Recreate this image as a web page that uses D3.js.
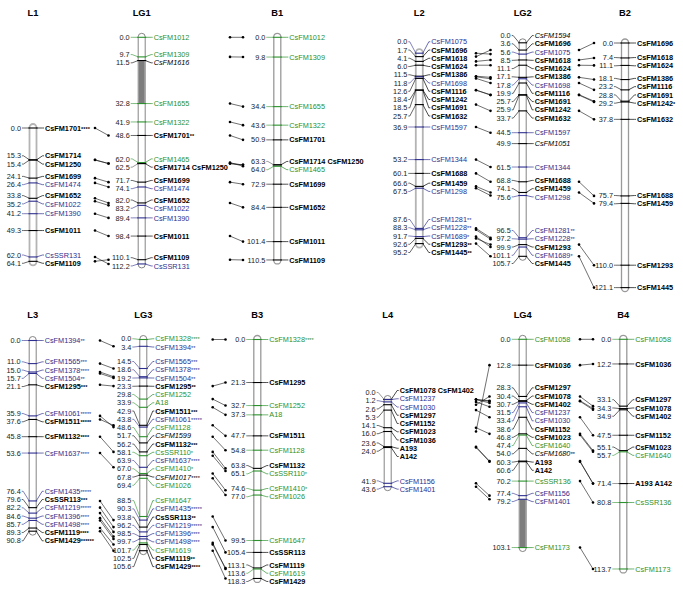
<!DOCTYPE html>
<html><head><meta charset="utf-8">
<script src="https://cdn.jsdelivr.net/npm/d3@7"></script>
<style>
body{margin:0;background:#fff}
svg{display:block}
text{font-family:"Liberation Sans",Arial,Helvetica,sans-serif}
</style>
</head><body>
<svg id="chart" width="683" height="592"></svg>
<script>
// ---------------- DATA ----------------
// colour/style codes: k = black bold, i = black italic, g = green, b = blue
const L1_pos = [0.0,15.3,15.4,24.1,26.4,33.8,35.2,41.2,49.3,62.0,64.1];
const L1_mk  = ["CsFM1701****","CsFM1714","CsFM1250","CsFM1699","CsFM1474","CsFM1652","CsFM1022","CsFM1390","CsFM1011","CsSSR131","CsFM1109"];
const L1_col = ["k","k","k","k","b","k","b","b","k","b","k"];

const LG1_pos = [0.0,9.7,11.5,32.8,41.9,48.6,62.0,62.5,62.5,71.7,74.1,82.0,83.2,89.4,98.4,110.1,112.2];
const LG1_mk  = ["CsFM1012","CsFM1309","CsFM1616","CsFM1655","CsFM1322","CsFM1701**","CsFM1465","CsFM1714","CsFM1250","CsFM1699","CsFM1474","CsFM1652","CsFM1022","CsFM1390","CsFM1011","CsFM1109","CsSSR131"];
const LG1_col = ["g","g","i","g","g","k","g","k","k","k","b","k","b","b","k","k","b"];
const LG1_gap = [11.5,32.8];

const B1_pos = [0.0,9.8,34.4,43.6,50.9,63.3,63.3,64.0,72.9,84.4,101.4,110.5];
const B1_mk  = ["CsFM1012","CsFM1309","CsFM1655","CsFM1322","CsFM1701","CsFM1714","CsFM1250","CsFM1465","CsFM1699","CsFM1652","CsFM1011","CsFM1109"];
const B1_col = ["g","g","g","g","k","k","k","g","k","k","k","k"];

const L2_pos = [0.0,1.7,4.1,6.0,11.5,11.8,12.6,18.4,18.5,25.7,36.9,53.2,60.1,66.6,67.5,87.6,88.3,91.7,92.6,95.2];
const L2_mk  = ["CsFM1075","CsFM1696","CsFM1618","CsFM1624","CsFM1386","CsFM1698","CsFM1116","CsFM1242","CsFM1691","CsFM1632","CsFM1597","CsFM1344","CsFM1688","CsFM1459","CsFM1298","CsFM1281**","CsFM1228**","CsFM1689*","CsFM1293**","CsFM1445**"];
const L2_col = ["b","k","k","k","k","b","k","k","k","k","b","b","k","k","b","b","b","b","k","k"];

const LG2_pos = [0.0,3.6,5.6,8.5,11.1,17.1,17.8,19.9,25.7,25.9,33.7,44.5,49.9,61.5,68.8,74.1,75.6,96.5,97.2,99.9,101.1,105.7];
const LG2_mk  = ["CsFM1594","CsFM1696","CsFM1075","CsFM1618","CsFM1624","CsFM1386","CsFM1698","CsFM1116","CsFM1691","CsFM1242","CsFM1632","CsFM1597","CsFM1051","CsFM1344","CsFM1688","CsFM1459","CsFM1298","CsFM1281**","CsFM1228**","CsFM1293","CsFM1689*","CsFM1445"];
const LG2_col = ["i","k","b","k","k","k","b","k","k","k","k","b","i","b","k","k","b","b","b","k","b","k"];

const B2_pos = [0.0,7.4,11.1,18.1,23.2,28.8,29.2,37.8,75.7,79.4,110.0,121.1];
const B2_mk  = ["CsFM1696","CsFM1618","CsFM1624","CsFM1386","CsFM1116","CsFM1691","CsFM1242*","CsFM1632","CsFM1688","CsFM1459","CsFM1293","CsFM1445"];
const B2_col = ["k","k","k","k","k","k","k","k","k","k","k","k"];

const L3_pos = [0.0,11.0,15.0,15.7,21.1,35.9,37.6,45.8,53.6,76.4,79.6,82.2,84.6,85.7,89.3,90.8];
const L3_mk  = ["CsFM1394**","CsFM1565***","CsFM1378****","CsFM1504**","CsFM1295***","CsFM1061*****","CsFM1511*****","CsFM1132****","CsFM1637****","CsFM1435*****","CsSSR113***","CsFM1219*****","CsFM1396****","CsFM1498****","CsFM1119****","CsFM1429******"];
const L3_col = ["b","b","b","b","k","b","k","k","b","b","k","b","b","b","k","k"];

const LG3_pos = [0.0,3.4,14.5,18.6,19.2,23.3,29.8,33.9,42.9,43.8,48.6,51.7,56.2,58.1,63.9,67.0,67.8,69.4,88.5,90.3,93.8,96.2,98.5,99.7,101.7,102.5,105.6];
const LG3_mk  = ["CsFM1328****","CsFM1394**","CsFM1565***","CsFM1378****","CsFM1504**","CsFM1295**","CsFM1252","A18","CsFM1511***","CsFM1061*****","CsFM1128","CsFM1599","CsFM1132***","CsSSR110*","CsFM1637****","CsFM1410*","CsFM1017****","CsFM1026","CsFM1647","CsFM1435*****","CsSSR113**","CsFM1219*****","CsFM1396****","CsFM1498****","CsFM1619","CsFM1119**","CsFM1429****"];
const LG3_col = ["g","b","b","b","b","k","g","g","k","b","g","i","k","g","b","g","i","g","g","b","k","b","b","b","g","k","k"];

const B3_pos = [0.0,21.3,32.7,37.3,47.7,54.8,63.8,65.1,74.6,77.0,99.5,105.4,113.1,113.6,118.3];
const B3_mk  = ["CsFM1328****","CsFM1295","CsFM1252","A18","CsFM1511","CsFM1128","CsFM1132","CsSSR110*","CsFM1410*","CsFM1026","CsFM1647","CsSSR113","CsFM1119","CsFM1619","CsFM1429"];
const B3_col = ["g","k","g","g","k","g","k","g","g","g","g","k","k","g","k"];

const L4_pos = [0.0,0.0,0.0,1.2,2.6,5.3,14.1,16.0,23.6,24.0,41.9,43.6];
const L4_mk  = ["CsFM1078","CsFM1402","CsFM1237","CsFM1030","CsFM1297","CsFM1152","CsFM1023","CsFM1036","A193","A142","CsFM1156","CsFM1401"];
const L4_col = ["k","k","b","b","k","k","k","k","k","k","b","b"];

const LG4_pos = [0.0,12.8,28.3,30.4,30.7,31.5,33.4,38.6,46.8,47.4,54.0,60.3,60.6,70.2,77.4,79.2,103.1];
const LG4_mk  = ["CsFM1058","CsFM1036","CsFM1297","CsFM1078","CsFM1402","CsFM1237","CsFM1030","CsFM1152","CsFM1023","CsFM1640","CsFM1680**","A193","A142","CsSSR136","CsFM1156","CsFM1401","CsFM1173"];
const LG4_col = ["g","k","k","k","k","b","b","k","k","g","i","k","k","g","b","b","g"];
const LG4_gap = [79.2,103.1];

const B4_pos = [0.0,12.2,33.1,34.3,34.9,47.5,55.1,55.7,71.4,71.4,80.8,113.7];
const B4_mk  = ["CsFM1058","CsFM1036","CsFM1297","CsFM1078","CsFM1402","CsFM1152","CsFM1023","CsFM1640","A193","A142","CsSSR136","CsFM1173"];
const B4_col = ["g","k","k","k","k","k","k","g","k","k","g","g"];

// ---------------- LAYOUT ----------------
const chroms = [
  {t:"L1",  cx:33,    y0:128,   s:2.08,  pos:L1_pos,  mk:L1_mk,  col:L1_col,  bar:"L"},
  {t:"LG1", cx:141.7, y0:37.3,  s:2.02,  pos:LG1_pos, mk:LG1_mk, col:LG1_col, bar:"G", gap:LG1_gap},
  {t:"B1",  cx:277.3, y0:37.3,  s:2.015, pos:B1_pos,  mk:B1_mk,  col:B1_col,  bar:"B"},
  {t:"L2",  cx:419.3, y0:53.2,  s:2.0,   pos:L2_pos,  mk:L2_mk,  col:L2_col,  bar:"L"},
  {t:"LG2", cx:522.7, y0:42.8,  s:2.02,  pos:LG2_pos, mk:LG2_mk, col:LG2_col, bar:"G"},
  {t:"B2",  cx:625,   y0:43,    s:2.02,  pos:B2_pos,  mk:B2_mk,  col:B2_col,  bar:"B"},
  {t:"L3",  cx:32.7,  y0:340.5, s:2.1,   pos:L3_pos,  mk:L3_mk,  col:L3_col,  bar:"G"},
  {t:"LG3", cx:143.3, y0:339.5, s:2.0,   pos:LG3_pos, mk:LG3_mk, col:LG3_col, bar:"G"},
  {t:"B3",  cx:257.3, y0:339.5, s:2.02,  pos:B3_pos,  mk:B3_mk,  col:B3_col,  bar:"B"},
  {t:"L4",  cx:387.7, y0:399.5, s:2.0,   pos:L4_pos,  mk:L4_mk,  col:L4_col,  bar:"G"},
  {t:"LG4", cx:522.7, y0:339.3, s:2.02,  pos:LG4_pos, mk:LG4_mk, col:LG4_col, bar:"G", gap:LG4_gap},
  {t:"B4",  cx:623.3, y0:339.3, s:2.02,  pos:B4_pos,  mk:B4_mk,  col:B4_col,  bar:"B"}
];
const links = [
  ["L1","LG1",95,108.5],["LG1","B1",230,243],
  ["L2","LG2",476,490.5],["LG2","B2",579,594],
  ["L3","LG3",100,113.5],["LG3","B3",212.7,225.5],
  ["L4","LG4",476,489.5],["LG4","B4",580,593]
];

const COLORS = {k:"#000000", i:"#000000", g:"#2c912c", b:"#2e2e8e"};
const FS = 7.3, GAP = 8.25, BARW = 7;
const svg = d3.select("#chart");

// label spreading: overlapping labels form a cluster centred on the
// midpoint of its first and last marker positions
function spread(items, gap){
  let cl = items.map(d => ({m:[d], start:d.y}));
  let changed = true;
  while(changed){
    changed = false;
    for(let i=0;i<cl.length-1;i++){
      const a = cl[i], b = cl[i+1];
      if(a.start + a.m.length*gap > b.start + 0.01){
        const m = a.m.concat(b.m);
        const start = (m[0].y + m[m.length-1].y)/2 - (m.length-1)*gap/2;
        cl.splice(i,2,{m, start});
        changed = true; break;
      }
    }
  }
  cl.forEach(c => c.m.forEach((d,k) => d.ly = c.start + k*gap));
}

const byName = {};
const baseKey = n => n.replace(/\*+$/,"");

chroms.forEach(c => {
  const max = d3.max(c.pos);
  const y = d3.scaleLinear().domain([0,max]).range([c.y0, c.y0 + c.s*max]);
  c.y = y;
  byName[c.t] = c;
  const g = svg.append("g");
  const cx = c.cx;
  const titleY = c.y0 < 200 ? 15.5 : 317.5;
  g.append("text").attr("x",cx).attr("y",titleY).attr("text-anchor","middle")
    .attr("font-size",9.3).attr("font-weight","bold").text(c.t);

  const st = c.bar==="L" ? {s:"#b4b4b4", w:1.8} : c.bar==="B" ? {s:"#9a9a9a", w:1.3} : {s:"#777", w:0.9};
  g.append("rect").attr("x",cx-BARW/2).attr("y",y(0)-4).attr("width",BARW)
    .attr("height",y(max)-y(0)+8).attr("rx",BARW/2).attr("ry",3.5)
    .attr("fill","#fff").attr("stroke",st.s).attr("stroke-width",st.w);
  if(c.gap){
    g.append("rect").attr("x",cx-BARW/2+0.5).attr("y",y(c.gap[0])).attr("width",BARW-1)
      .attr("height",y(c.gap[1])-y(c.gap[0])).attr("fill","#7d7d7d");
  }
  const markers = c.pos.map((p,i) => ({p, name:c.mk[i], col:c.col[i], ym:y(p)}));
  g.selectAll("line.m").data(markers).join("line")
    .attr("x1",cx-BARW/2-1).attr("x2",cx+BARW/2+1)
    .attr("y1",d=>d.ym).attr("y2",d=>d.ym)
    .attr("stroke",d=>COLORS[d.col]).attr("stroke-width",1.1);

  const right = [];
  markers.forEach(d => {
    const last = right[right.length-1];
    if(last && last.p===d.p && last.col===d.col){ last.names.push(d.name); }
    else right.push({p:d.p, col:d.col, names:[d.name], y:d.ym});
  });
  spread(right, GAP);
  const left = [];
  markers.forEach(d => {
    const last = left[left.length-1];
    if(last && last.p===d.p){ last.cols.push(d.col); }
    else left.push({p:d.p, cols:[d.col], y:d.ym});
  });
  spread(left, GAP);

  right.forEach(d => {
    const col = COLORS[d.col];
    g.append("polyline").attr("fill","none").attr("stroke",col).attr("stroke-width",0.7)
      .attr("points",[[cx+BARW/2,d.y],[cx+9.5,d.ly],[cx+11,d.ly]].join(" "));
    const t = g.append("text").attr("x",cx+12).attr("y",d.ly+FS*0.36)
      .attr("font-size",FS).attr("fill",col)
      .attr("font-weight",d.col==="k"?"bold":"normal")
      .attr("font-style",d.col==="i"?"italic":"normal");
    const full = d.names.join(" ");
    const m = full.match(/^(.*?)(\*+)$/);
    if(m){ t.append("tspan").text(m[1]); t.append("tspan").attr("font-size",5.6).text(m[2]); }
    else t.text(full);
  });
  left.forEach(d => {
    const col = d.cols.length===1 ? COLORS[d.cols[0]] : "#555";
    g.append("polyline").attr("fill","none").attr("stroke",col).attr("stroke-width",0.6)
      .attr("points",[[cx-BARW/2,d.y],[cx-9.5,d.ly],[cx-11,d.ly]].join(" "));
    g.append("text").attr("x",cx-12).attr("y",d.ly+FS*0.36).attr("text-anchor","end")
      .attr("font-size",FS).attr("fill","#222").text(d.p.toFixed(1));
  });
  c.markers = markers;
});

links.forEach(([a,b,x1,x2]) => {
  const A = byName[a], B = byName[b];
  const g = svg.append("g");
  A.markers.forEach(ma => {
    B.markers.filter(mb => baseKey(mb.name)===baseKey(ma.name)).forEach(mb => {
      g.append("line").attr("x1",x1).attr("x2",x2).attr("y1",ma.ym).attr("y2",mb.ym)
        .attr("stroke","#111").attr("stroke-width",0.6);
      g.append("circle").attr("cx",x1).attr("cy",ma.ym).attr("r",1.3).attr("fill","#000");
      g.append("circle").attr("cx",x2).attr("cy",mb.ym).attr("r",1.3).attr("fill","#000");
    });
  });
});
</script>
</body></html>
